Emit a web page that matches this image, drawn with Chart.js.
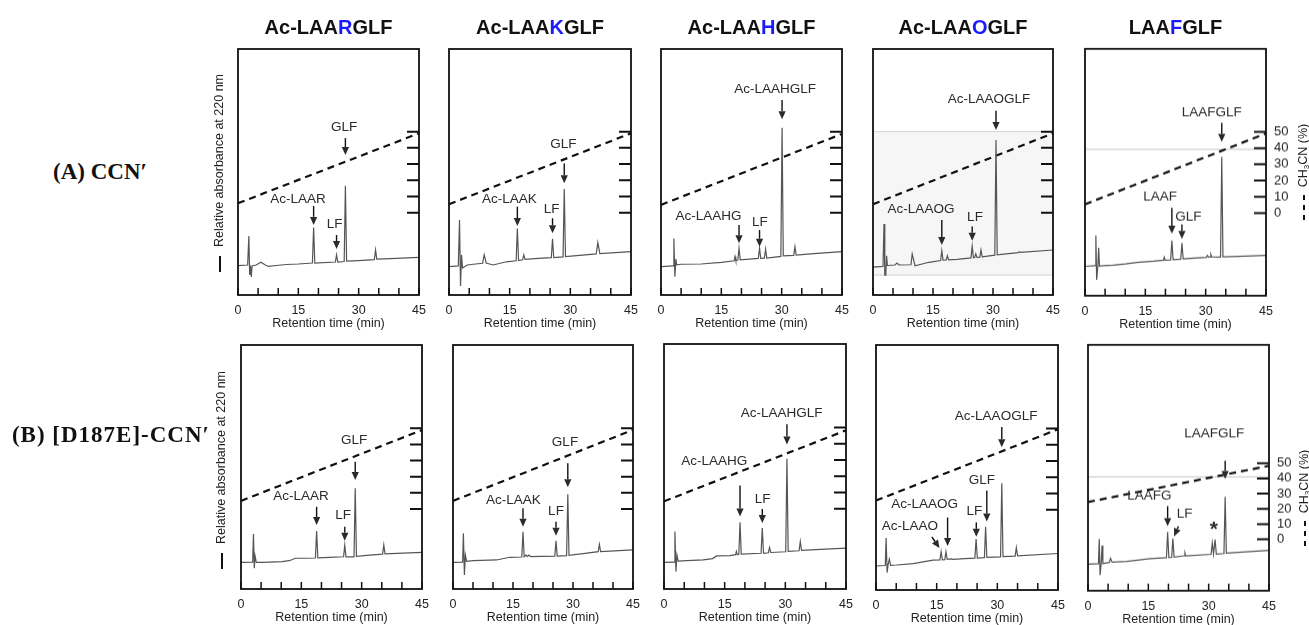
<!DOCTYPE html>
<html>
<head>
<meta charset="utf-8">
<title>RP-HPLC chromatograms</title>
<script src="https://cdn.jsdelivr.net/npm/chart.js@4.4.1/dist/chart.umd.min.js"></script>
<style>
  body { margin:0; width:1309px; height:625px; background:#fff; position:relative; overflow:hidden;
         font-family:"Liberation Sans", Arial, sans-serif; color:#111; }
  canvas { position:absolute; }
  .pep { position:absolute; top:14px; width:200px; text-align:center; font-weight:bold; font-size:20px; line-height:26px; color:#111; }
  .pep span { color:#1a1aff; }
  .row { position:absolute; width:240px; text-align:center; font-family:"Liberation Serif", "Times New Roman", serif;
         font-weight:bold; font-size:23px; line-height:28px; white-space:nowrap; color:#111; }
  .vlab { position:absolute; width:220px; height:16px; line-height:16px; font-size:12.5px; color:#222;
          white-space:nowrap; text-align:center; transform:rotate(-90deg); }
  .vlab sub { font-size:8px; vertical-align:-2px; }
  .solid { display:inline-block; width:16px; height:1.8px; background:#111; vertical-align:middle; margin-right:9px; }
  .dash { display:inline-block; width:26px; height:1.8px; vertical-align:middle; margin-right:7px;
          background:repeating-linear-gradient(90deg,#111 0 5px,transparent 5px 10px); }
</style>
</head>
<body>
<script>
// ---- data -----------------------------------------------------------
const peptides = ['Ac-LAARGLF', 'Ac-LAAKGLF', 'Ac-LAAHGLF', 'Ac-LAAOGLF', 'LAAFGLF'];
const residues = ['R', 'K', 'H', 'O', 'F'];
const rowLabels = ['(A) CCN′', '(B) [D187E]-CCN′'];
const timeTicks = [0, 5, 10, 15, 20, 25, 30, 35, 40, 45];
const timeLabels = [0, 15, 30, 45];
const acnTicks = [0, 10, 20, 30, 40, 50];
const gradientTimes = [0, 45];

// absorbance traces: [retention time (min), relative absorbance (0-100 of frame)]
const traceA1 = [[0,11.9],[2.4,12.2],[2.7,24.0],[2.9,8.1],[3.1,12.0],[3.3,7.3],[3.5,11.8],[4.5,12.2],[5.7,13.3],[6.6,12.4],[7.5,11.6],[9.5,12.0],[12,12.4],[15,12.6],[18.5,13.0],[18.8,27.4],[19.1,13.0],[24.2,13.4],[24.5,16.3],[24.8,13.4],[26.4,13.6],[26.7,44.4],[27.0,13.8],[30,14.0],[33.9,14.4],[34.2,18.3],[34.5,14.6],[38,14.8],[45,15.3]];
const traceA2 = [[0,11.5],[2.3,11.8],[2.6,30.5],[2.85,3.7],[3.1,16.3],[3.35,11.0],[4.5,12.2],[6,12.5],[8.3,12.9],[8.7,16.3],[9.2,13.0],[10.9,12.2],[14.2,13.5],[16.6,13.9],[16.9,27.0],[17.2,14.0],[18.2,14.3],[18.5,16.3],[18.8,14.5],[22,14.9],[25.3,15.2],[25.6,22.9],[25.9,15.2],[28.2,15.5],[28.5,43.1],[28.8,15.6],[33,16.2],[36.4,16.7],[36.8,21.3],[37.3,16.8],[45,17.6]];
const traceA3 = [[0,11.5],[3.0,11.8],[3.2,23.0],[3.45,7.4],[3.7,14.6],[3.9,12.3],[5,12.5],[10,12.6],[15,13.3],[18.2,13.9],[18.4,15.6],[18.6,14.0],[19.1,14.2],[19.4,19.0],[19.7,14.3],[24.2,14.9],[24.5,19.0],[24.8,14.9],[25.7,15.0],[26.0,18.6],[26.3,15.0],[29.8,15.7],[30.1,68.0],[30.4,15.9],[33.0,16.1],[33.3,19.6],[33.6,16.2],[38,16.8],[45,17.6]];
const traceA4 = [[0,11.3],[2.5,11.6],[2.75,28.9],[2.95,8.1],[3.2,8.1],[3.4,15.9],[3.6,12.0],[5.5,12.2],[6,13.0],[6.5,12.2],[9.5,12.3],[9.8,16.7],[10.5,11.9],[14,13.3],[16.9,14.0],[17.2,18.0],[17.5,14.2],[18.3,14.3],[18.6,16.0],[18.9,14.3],[21,14.5],[24.5,15.1],[24.8,19.9],[25.1,15.2],[25.4,15.2],[25.7,16.7],[26.0,15.3],[26.7,15.4],[27.0,18.3],[27.3,15.5],[30.45,16.2],[30.75,63.0],[31.05,16.3],[36.3,17.2],[36.6,17.6],[36.9,17.3],[45,18.3]];
const traceA5 = [[0,11.9],[2.5,12.2],[2.7,24.4],[2.9,6.4],[3.2,12.0],[3.4,19.4],[3.6,12.0],[4.5,12.2],[7,12.4],[10,12.9],[12.9,13.5],[17,14.0],[19.5,14.4],[19.7,15.6],[19.9,14.4],[21.3,14.5],[21.6,22.4],[21.9,14.6],[23.8,14.8],[24.1,21.3],[24.4,14.9],[28,15.3],[30.2,15.5],[30.4,16.3],[30.7,15.6],[31.1,15.7],[31.3,16.7],[31.5,15.7],[33.7,15.6],[34.0,56.2],[34.3,15.7],[40,16.0],[45,16.3]];
const traceB1 = [[0,10.9],[2.9,11.0],[3.1,22.5],[3.3,8.5],[3.5,13.5],[3.8,10.9],[5.3,10.9],[10.2,11.2],[12,11.6],[13.5,12.6],[16,12.6],[18.5,12.7],[18.8,23.8],[19.1,12.8],[22,13.0],[25.5,13.2],[25.8,17.9],[26.1,13.2],[28.1,13.2],[28.4,41.3],[28.7,13.4],[32,13.9],[35.2,14.3],[35.5,18.0],[35.8,14.4],[45,15.0]];
const traceB2 = [[0,10.9],[2.4,11.0],[2.6,22.8],[2.85,5.7],[3.1,13.9],[3.4,11.3],[5,11.6],[10.9,11.9],[14.2,13.0],[17.2,13.1],[17.5,23.5],[17.8,13.2],[18.3,13.9],[18.6,13.3],[19.0,13.9],[19.4,13.3],[22,13.4],[25.45,13.5],[25.75,19.8],[26.05,13.5],[28.4,13.7],[28.7,38.8],[29.0,13.8],[33,14.6],[36.3,15.3],[36.6,18.3],[36.9,15.3],[45,16.0]];
const traceB3 = [[0,10.9],[2.5,11.0],[2.7,23.5],[2.95,7.1],[3.2,13.9],[3.5,11.4],[5.6,11.6],[9.7,11.9],[12,12.4],[13,13.5],[16.3,13.6],[17.7,14.0],[17.9,15.3],[18.1,14.0],[18.5,14.1],[18.8,27.2],[19.1,14.2],[24.0,14.6],[24.3,24.9],[24.6,14.6],[25.8,14.8],[26.1,16.9],[26.4,14.9],[30.1,15.2],[30.4,53.2],[30.7,15.4],[33.4,15.6],[33.7,19.4],[34.0,15.8],[40,16.3],[45,16.7]];
const traceB4 = [[0,9.8],[2.3,10.0],[2.5,21.2],[2.75,7.1],[3.0,10.5],[3.3,12.6],[3.6,10.1],[5.1,10.2],[9.2,10.8],[14.1,12.2],[15.8,12.3],[16.1,15.6],[16.4,12.3],[17.0,12.4],[17.3,15.6],[17.6,12.5],[18.7,12.7],[19.0,12.5],[22,12.8],[24.45,13.0],[24.75,20.8],[25.05,13.0],[26.8,13.2],[27.1,25.8],[27.4,13.3],[30.8,13.5],[31.1,43.6],[31.4,13.6],[34.4,13.8],[34.7,17.3],[35.0,13.9],[45,14.9]];
const traceB5 = [[0,10.8],[2.6,11.0],[2.8,21.0],[3.0,6.4],[3.3,11.5],[3.5,18.4],[3.7,11.0],[4.2,11.2],[5.3,11.5],[5.6,13.2],[6.0,11.6],[9.6,11.9],[15.4,13.0],[19.5,13.4],[19.8,23.9],[20.1,13.5],[20.8,13.6],[21.1,21.2],[21.4,13.7],[23.9,14.2],[24.1,15.3],[24.3,14.2],[30.6,14.8],[30.9,19.4],[31.2,15.0],[31.6,20.8],[31.9,14.9],[33.8,15.1],[34.1,38.2],[34.4,15.3],[45,16.4]];

// CH3CN gradient (%) at gradientTimes
const gradientA = [[5.8,49.0],[5.2,49.0],[4.8,48.6],[5.2,49.0],[5.4,49.0]];
const gradientB = [[5.0,48.9],[5.0,49.0],[4.5,48.3],[5.6,49.6],[24.5,48.3]];
// right-axis range (%) of each frame
const acnRangeA = [[-50.8,101],[-50.8,101],[-50.8,101],[-50.8,101],[-50.8,101]];
const acnRangeB = [[-49.6,101.6],[-49.6,101.6],[-49.6,101.6],[-49.6,101.6],[-33.8,127.8]];

// peak labels: [text, label t, label y, arrow from t, from y, to t, to y]
const peaksA1 = [['Ac-LAAR',14.9,38.9,18.8,36.2,18.8,28.5],['LF',24.0,28.9,24.5,24.4,24.5,18.7],['GLF',26.4,68.0,26.7,63.8,26.7,56.9]];
const peaksA2 = [['Ac-LAAK',14.9,38.9,16.9,35.9,16.9,28.0],['LF',25.4,34.8,25.6,31.2,25.6,25.1],['GLF',28.3,61.4,28.5,53.5,28.5,45.4]];
const peaksA3 = [['Ac-LAAHG',11.8,32.1,19.4,28.5,19.4,21.0],['LF',24.6,29.7,24.5,26.4,24.5,19.6],['Ac-LAAHGLF',28.4,83.6,30.1,79.3,30.1,71.4]];
const peaksA4 = [['Ac-LAAOG',12.0,34.8,17.2,30.5,17.2,20.3],['LF',25.5,31.6,24.8,27.8,24.8,22.1],['Ac-LAAOGLF',29.0,79.6,30.75,74.9,30.75,67.1]];
const peaksA5 = [['LAAF',18.7,40.0,21.6,35.6,21.6,25.1],['GLF',25.7,32.1,24.1,28.9,24.1,23.0],['LAAFGLF',31.5,74.1,34.0,70.0,34.0,62.3]];
const peaksB1 = [['Ac-LAAR',14.9,37.8,18.8,33.7,18.8,26.2],['LF',25.4,30.3,25.8,25.5,25.8,19.8],['GLF',28.1,61.1,28.4,52.2,28.4,44.7]];
const peaksB2 = [['Ac-LAAK',15.1,36.2,17.5,33.1,17.5,25.5],['LF',25.75,31.7,25.75,27.6,25.75,21.8],['GLF',28.0,60.1,28.7,51.5,28.7,41.7]];
const peaksB3 = [['Ac-LAAHG',12.4,52.2,18.8,42.2,18.8,29.6],['LF',24.4,36.5,24.3,32.7,24.3,26.9],['Ac-LAAHGLF',29.1,71.7,30.4,67.2,30.4,59.0]];
const peaksB4 = [['Ac-LAAO',8.4,26.2,13.8,21.7,15.7,17.1],['Ac-LAAOG',12.0,35.1,17.7,29.6,17.7,18.0],['LF',24.3,32.0,24.8,27.6,24.8,21.7],['GLF',26.2,44.7,27.4,40.6,27.4,28.0],['Ac-LAAOGLF',29.7,70.9,31.1,66.5,31.1,58.3]];
const peaksB5 = [['LAAFG',15.25,38.5,19.8,34.4,19.8,26.2],['LF',24.0,31.3,22.5,26.2,21.4,22.1],['LAAFGLF',31.4,63.8,34.1,52.9,34.1,45.4],['*',31.3,24.9]];

// ---- layout ---------------------------------------------------------
const frameBoxes = [
  [[238,49,419,295],[449,49,631,295],[661,49,842,295],[873,49,1053,295],[1085,49,1266,295]],
  [[241,345,422,589],[453,345,633,589],[664,344,846,589],[876,345,1058,590],[1088,345,1269,590]]
];
const scanShade = { '0-3': [8.1, 66.4] };
const scanRule = { '0-4': 59.3, '1-4': 46.3 };

const rows = [
  { traces: [traceA1, traceA2, traceA3, traceA4, traceA5], gradients: gradientA, ranges: acnRangeA, peaks: [peaksA1, peaksA2, peaksA3, peaksA4, peaksA5] },
  { traces: [traceB1, traceB2, traceB3, traceB4, traceB5], gradients: gradientB, ranges: acnRangeB, peaks: [peaksB1, peaksB2, peaksB3, peaksB4, peaksB5] }
];

const FONT = '"Liberation Sans", Arial, sans-serif';

const panelDecor = {
  id: 'panelDecor',
  beforeDatasetsDraw(chart, args, o) {
    const { ctx, chartArea: a, scales: { y } } = chart;
    ctx.save();
    if (o.shade) {
      const t = y.getPixelForValue(o.shade[1]), b = y.getPixelForValue(o.shade[0]);
      ctx.fillStyle = '#f6f6f6';
      ctx.fillRect(a.left, t, a.width, b - t);
      ctx.strokeStyle = '#d2d2d2'; ctx.lineWidth = 1;
      ctx.beginPath();
      ctx.moveTo(a.left, t); ctx.lineTo(a.right, t);
      ctx.moveTo(a.left, b); ctx.lineTo(a.right, b);
      ctx.stroke();
    }
    if (o.rule != null) {
      const py = y.getPixelForValue(o.rule);
      ctx.strokeStyle = '#c4c4c4'; ctx.lineWidth = 1;
      ctx.beginPath(); ctx.moveTo(a.left, py); ctx.lineTo(a.right, py); ctx.stroke();
    }
    ctx.restore();
  },
  afterDatasetsDraw(chart, args, o) {
    const { ctx, chartArea: a, scales: { x, y, y2 } } = chart;
    ctx.save();
    ctx.strokeStyle = '#111';
    ctx.lineWidth = 1.8;
    ctx.strokeRect(a.left, a.top, a.width, a.height);
    ctx.lineWidth = 1.5;
    ctx.beginPath();
    timeTicks.forEach(t => {
      const px = x.getPixelForValue(t);
      ctx.moveTo(px, a.bottom); ctx.lineTo(px, a.bottom - 7);
    });
    ctx.stroke();
    ctx.lineWidth = 2;
    ctx.beginPath();
    acnTicks.forEach(v => {
      const py = y2.getPixelForValue(v);
      ctx.moveTo(a.right, py); ctx.lineTo(a.right - 12, py);
    });
    ctx.stroke();

    ctx.fillStyle = '#2a2a2a';
    ctx.strokeStyle = '#111';
    ctx.lineWidth = 1.4;
    ctx.textAlign = 'center';
    ctx.textBaseline = 'middle';
    o.peaks.forEach(([text, lt, lv, t1, v1, t2, v2]) => {
      ctx.font = text === '*' ? 'bold 21px ' + FONT : '13.5px ' + FONT;
      ctx.fillText(text, x.getPixelForValue(lt), y.getPixelForValue(lv));
      if (t1 == null) return;
      const x1 = x.getPixelForValue(t1), y1 = y.getPixelForValue(v1);
      const x2 = x.getPixelForValue(t2), yy2 = y.getPixelForValue(v2);
      const ang = Math.atan2(yy2 - y1, x2 - x1), hl = 8, hw = 3.6;
      const bx = x2 - hl * Math.cos(ang), by = yy2 - hl * Math.sin(ang);
      ctx.beginPath(); ctx.moveTo(x1, y1); ctx.lineTo(bx, by); ctx.stroke();
      ctx.beginPath();
      ctx.moveTo(x2, yy2);
      ctx.lineTo(bx - hw * Math.sin(ang), by + hw * Math.cos(ang));
      ctx.lineTo(bx + hw * Math.sin(ang), by - hw * Math.cos(ang));
      ctx.closePath(); ctx.fill();
    });
    ctx.restore();
  }
};

const ML = 16, MR = 16, MT = 12, XH = 36, Y2W = 30;

function addPanel(r, c) {
  const row = rows[r];
  const [l, t, rgt, b] = frameBoxes[r][c];
  const last = c === 4;
  const canvas = document.createElement('canvas');
  const W = (rgt - l) + ML + MR + (last ? Y2W : 0);
  const H = (b - t) + MT + XH + 2;
  canvas.width = W; canvas.height = H;
  document.body.appendChild(canvas);

  const y2 = {
    position: 'right', min: row.ranges[c][0], max: row.ranges[c][1], display: last,
    grid: { display: false, drawTicks: false },
    border: { display: false },
    ticks: { padding: 8, color: '#222', font: { family: FONT, size: 13 } },
    afterBuildTicks: s => { s.ticks = acnTicks.map(v => ({ value: v })); }
  };
  if (last) y2.afterFit = s => { s.width = Y2W; };

  const chart = new Chart(canvas, {
    type: 'line',
    data: {
      datasets: [
        { data: row.traces[c].map(([x, y]) => ({ x, y })), yAxisID: 'y',
          borderColor: '#555', borderWidth: 1.2, pointRadius: 0, tension: 0 },
        { data: gradientTimes.map((x, i) => ({ x, y: row.gradients[c][i] })), yAxisID: 'y2',
          borderColor: '#111', borderWidth: 2.2, borderDash: [7, 5], pointRadius: 0, tension: 0 }
      ]
    },
    options: {
      responsive: false,
      maintainAspectRatio: false,
      animation: false,
      events: [],
      layout: { padding: { left: ML, right: MR, top: MT, bottom: 2 } },
      plugins: {
        legend: { display: false },
        tooltip: { enabled: false },
        panelDecor: { peaks: row.peaks[c], shade: scanShade[r + '-' + c], rule: scanRule[r + '-' + c] }
      },
      scales: {
        x: {
          type: 'linear', min: 0, max: 45,
          grid: { display: false, drawTicks: false },
          border: { display: false },
          ticks: { padding: 8, color: '#222', maxRotation: 0, font: { family: FONT, size: 12.5 } },
          afterBuildTicks: s => { s.ticks = timeLabels.map(v => ({ value: v })); },
          title: { display: true, text: 'Retention time (min)', padding: 0, color: '#222', font: { family: FONT, size: 12.5 } },
          afterFit: s => { s.height = XH; }
        },
        y: { min: 0, max: 100, display: false },
        y2
      }
    },
    plugins: [panelDecor]
  });
  // make the plot frame exactly the size of its box, then put it in place
  let a = chart.chartArea;
  const dw = (rgt - l) - a.width, dh = (b - t) - a.height;
  if (dw || dh) { chart.resize(W + dw, H + dh); a = chart.chartArea; }
  canvas.style.left = (l - a.left) + 'px';
  canvas.style.top = (t - a.top) + 'px';
}

for (let r = 0; r < 2; r++) for (let c = 0; c < 5; c++) addPanel(r, c);

// ---- text around the frames -------------------------------------------
function addDiv(cls, html, css) {
  const d = document.createElement('div');
  d.className = cls; d.innerHTML = html;
  Object.assign(d.style, css);
  document.body.appendChild(d);
}
peptides.forEach((p, i) => {
  const [l, , r] = frameBoxes[0][i];
  const k = p.lastIndexOf(residues[i], p.length - 4);
  addDiv('pep', p.slice(0, k) + '<span>' + residues[i] + '</span>' + p.slice(k + 1), { left: ((l + r) / 2 - 100) + 'px' });
});
addDiv('row', rowLabels[0], { left: (100 - 120) + 'px', top: (172 - 14) + 'px' });
addDiv('row', rowLabels[1], { left: (111 - 120) + 'px', top: (435 - 14) + 'px', letterSpacing: '1px' });
addDiv('vlab', '<span class="solid"></span>Relative absorbance at 220 nm', { left: (219 - 110) + 'px', top: (173 - 8) + 'px' });
addDiv('vlab', '<span class="solid"></span>Relative absorbance at 220 nm', { left: (221 - 110) + 'px', top: (470 - 8) + 'px' });
addDiv('vlab', '<span class="dash"></span>CH<sub>3</sub>CN (%)', { left: (1303 - 110) + 'px', top: (172 - 8) + 'px' });
addDiv('vlab', '<span class="dash"></span>CH<sub>3</sub>CN (%)', { left: (1304 - 110) + 'px', top: (498 - 8) + 'px' });
</script>
</body>
</html>
